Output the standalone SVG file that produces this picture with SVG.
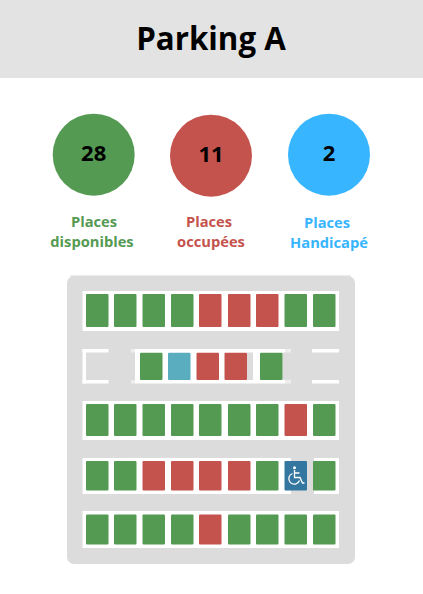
<svg xmlns="http://www.w3.org/2000/svg" width="423" height="594" viewBox="0 0 423 594">
<style>
text{font-family:"Open Sans","Noto Sans",sans-serif;font-weight:700;text-anchor:middle}
.t{font-size:31.3px;fill:#000}
.n{font-size:22px;fill:#000}
.l{font-size:14.700px}
.g{fill:#559a53}.r{fill:#c5534d}.b{fill:#5aacbf}.w{fill:#fff}
.s rect{rx:1px}
</style>
<rect width="423" height="594" fill="#fff"/>
<g id="header"><rect width="423" height="78" fill="#e3e3e3"/><text class="t" x="211" y="50">Parking A</text></g>
<g id="stat-free"><circle class="g" cx="93.700" cy="154.700" r="41"/><text class="n" x="93.700" y="161">28</text><text class="l g" x="94" y="227">Places</text><text class="l g" x="92" y="247">disponibles</text></g>
<g id="stat-taken"><circle class="r" cx="211" cy="155.700" r="41"/><text class="n" x="211" y="161.500">11</text><text class="l r" x="209" y="227">Places</text><text class="l r" x="211" y="247">occupées</text></g>
<g id="stat-handi"><circle fill="#38b5ff" cx="329" cy="154.700" r="41"/><text class="n" x="329" y="161">2</text><text fill="#38b5ff" class="l" x="327" y="228">Places</text><text fill="#38b5ff" class="l" x="329" y="248">Handicapé</text></g>
<g id="lot">
<rect x="70" y="275" width="281" height="2" fill="#ececec"/>
<rect x="67" y="276" width="288" height="288" rx="7" fill="#dcdcdc"/>
<g class="w">
<rect x="82.500" y="291" width="256.500" height="40"/>
<rect x="82.500" y="349" width="26" height="3.500"/><rect x="82.500" y="380" width="26" height="3.500"/><rect x="82.500" y="349" width="3.500" height="34.500"/>
<rect x="135" y="349" width="150" height="34.500"/>
<rect x="285" y="349" width="6" height="3.500" opacity=".5"/><rect x="285" y="380" width="6" height="3.500" opacity=".5"/>
<rect x="131" y="349" width="4" height="3.500" opacity=".5"/><rect x="131" y="380" width="4" height="3.500" opacity=".5"/>
<rect x="312" y="349" width="27" height="3.500"/><rect x="312" y="380" width="27" height="3.500"/>
<rect x="82.500" y="401" width="256.500" height="39"/>
<rect x="82.500" y="458" width="208.500" height="36"/><rect x="314" y="458" width="25" height="36"/>
<rect x="82.500" y="511" width="256.500" height="37"/>
</g>
<rect x="247" y="352.500" width="6" height="27.500" fill="#dcdcdc"/>
<rect x="282.500" y="352.500" width="2.500" height="27.500" fill="#dcdcdc"/>
</g>
<g id="spaces" class="s">
<g transform="translate(0,294)">
<rect class="g" x="86" width="22.500" height="33"/><rect class="g" x="114" width="22.500" height="33"/><rect class="g" x="142.500" width="22.500" height="33"/><rect class="g" x="171" width="22.500" height="33"/><rect class="r" x="199" width="22.500" height="33"/><rect class="r" x="228" width="22.500" height="33"/><rect class="r" x="256" width="22.500" height="33"/><rect class="g" x="284.500" width="22.500" height="33"/><rect class="g" x="313" width="22.500" height="33"/>
</g>
<g transform="translate(0,352.700)">
<rect class="g" x="140" width="22.500" height="27.300"/><rect class="b" x="168" width="22.500" height="27.300"/><rect class="r" x="196.500" width="22.500" height="27.300"/><rect class="r" x="224.500" width="22.500" height="27.300"/><rect class="g" x="260" width="22.500" height="27.300"/>
</g>
<g transform="translate(0,404)">
<rect class="g" x="86" width="22.500" height="32"/><rect class="g" x="114" width="22.500" height="32"/><rect class="g" x="142.500" width="22.500" height="32"/><rect class="g" x="171" width="22.500" height="32"/><rect class="g" x="199" width="22.500" height="32"/><rect class="g" x="228" width="22.500" height="32"/><rect class="g" x="256" width="22.500" height="32"/><rect class="r" x="284.500" width="22.500" height="32"/><rect class="g" x="313" width="22.500" height="32"/>
</g>
<g transform="translate(0,461)">
<rect class="g" x="86" width="22.500" height="29.500"/><rect class="g" x="114" width="22.500" height="29.500"/><rect class="r" x="142.500" width="22.500" height="29.500"/><rect class="r" x="171" width="22.500" height="29.500"/><rect class="r" x="199" width="22.500" height="29.500"/><rect class="r" x="228" width="22.500" height="29.500"/><rect class="g" x="256" width="22.500" height="29.500"/><rect fill="#33769f" x="284.500" width="22.500" height="29.500"/><rect class="g" x="313" width="22.500" height="29.500"/>
</g>
<g transform="translate(0,514.500)">
<rect class="g" x="86" width="22.500" height="30"/><rect class="g" x="114" width="22.500" height="30"/><rect class="g" x="142.500" width="22.500" height="30"/><rect class="g" x="171" width="22.500" height="30"/><rect class="r" x="199" width="22.500" height="30"/><rect class="g" x="228" width="22.500" height="30"/><rect class="g" x="256" width="22.500" height="30"/><rect class="g" x="284.500" width="22.500" height="30"/><rect class="g" x="313" width="22.500" height="30"/>
</g>
</g>
<g id="wheelchair" fill="none" stroke="#fff" stroke-width="1.300">
<circle cx="294.500" cy="467.800" r="1.500" fill="#fff" stroke="none"/>
<path d="M294.500 470v7.500h5.500l2.500 5.500h2M294.500 473h5"/>
<path d="M292.500 473.500a5.500 5.500 0 1 0 7 7"/>
</g>
</svg>
